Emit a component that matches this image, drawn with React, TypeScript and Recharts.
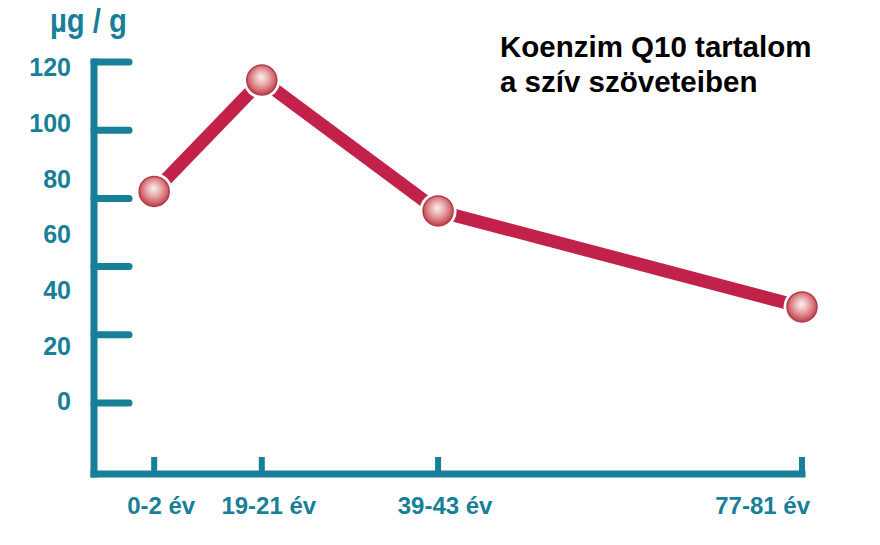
import { LineChart, Line, XAxis, YAxis } from 'recharts';

// age groups along the bottom axis
const ageGroups = ['0-2 év', '19-21 év', '39-43 év', '77-81 év'];
// where each age group sits on the horizontal track (0..100)
const trackPos = [8.5, 23.7, 48.6, 100];
// CoQ10 content of heart tissue, µg/g
const coq10 = [75.5, 115.5, 68.5, 34];

// the printed numbers and the tick marks on the y axis do not share spacing in the original
const yLabelTicks = [0, 20, 40, 60, 80, 100, 120];
const yMarkTicks = [0, 24, 48, 72, 96, 120];

const TEAL = '#177f98';
const RED = '#c2214a';
const FONT = "'Liberation Sans', Arial, sans-serif";

const data = ageGroups.map((age, i) => ({ age, pos: trackPos[i], value: coq10[i] }));

function AgeTick(props: any) {
  const { x, y, payload } = props;
  const i = trackPos.indexOf(payload.value);
  const last = i === trackPos.length - 1;
  return (
    <g>
      <line x1={x} y1={y} x2={x} y2={y - 17} stroke={TEAL} strokeWidth={6} />
      <text
        x={last ? x + 8 : x + 7}
        y={y + 40}
        textAnchor={last ? 'end' : 'middle'}
        fill={TEAL}
        fontSize={24}
        fontWeight={700}
        fontFamily={FONT}
      >
        {ageGroups[i]}
      </text>
    </g>
  );
}

function Bead(props: any) {
  const { cx, cy, index } = props;
  const id = `bead-${index}`;
  return (
    <g key={id}>
      <defs>
        <radialGradient id={id} cx="50%" cy="45%" r="55%" fx="48%" fy="40%">
          <stop offset="0%" stopColor="#fbf0ee" />
          <stop offset="40%" stopColor="#eab0b0" />
          <stop offset="80%" stopColor="#d0646b" />
          <stop offset="100%" stopColor="#b23d48" />
        </radialGradient>
      </defs>
      <circle cx={cx} cy={cy} r={18.5} fill="#fff" />
      <circle cx={cx} cy={cy} r={15} fill={`url(#${id})`} stroke="#b43a47" strokeWidth={1.5} />
    </g>
  );
}

export default function App() {
  return (
    <div style={{ position: 'absolute', left: 0, top: 0, width: 880, height: 545, background: '#fff' }}>
      <LineChart width={880} height={545} data={data} margin={{ top: 62, right: 78, bottom: 0, left: 0 }}>
        <XAxis
          dataKey="pos"
          type="number"
          domain={[0, 100]}
          ticks={trackPos}
          interval={0}
          height={71}
          tickSize={0}
          tickMargin={0}
          tickLine={false}
          axisLine={{ stroke: TEAL, strokeWidth: 7, strokeLinecap: 'square' }}
          tick={<AgeTick />}
        />
        <YAxis
          yAxisId="marks"
          type="number"
          mirror
          domain={[-25, 120]}
          ticks={yMarkTicks}
          interval={0}
          allowDataOverflow
          tickSize={35}
          tickFormatter={() => ''}
          axisLine={{ stroke: TEAL, strokeWidth: 7, strokeLinecap: 'square' }}
          tickLine={{ stroke: TEAL, strokeWidth: 7, strokeLinecap: 'round' }}
        />
        <YAxis
          yAxisId="labels"
          type="number"
          width={94}
          domain={[-26, 122]}
          ticks={yLabelTicks}
          interval={0}
          allowDataOverflow
          axisLine={false}
          tickLine={false}
          tickSize={0}
          tickMargin={23}
          tick={{ fill: TEAL, fontSize: 25, fontWeight: 700, fontFamily: FONT }}
        />
        <Line
          yAxisId="labels"
          dataKey="value"
          stroke={RED}
          strokeWidth={13}
          strokeLinejoin="miter"
          dot={Bead}
          activeDot={false}
          isAnimationActive={false}
        />
      </LineChart>
      <svg width={880} height={545} style={{ position: 'absolute', left: 0, top: 0, pointerEvents: 'none' }}>
        <text
          x={50}
          y={31.5}
          fill={TEAL}
          fontSize={33}
          fontWeight={700}
          fontFamily={FONT}
          textLength={77}
          lengthAdjust="spacingAndGlyphs"
        >
          µg / g
        </text>
        <text x={500} y={56.7} fill="#000" fontSize={29.5} fontWeight={700} fontFamily={FONT}>
          Koenzim Q10 tartalom
        </text>
        <text x={500} y={91.7} fill="#000" fontSize={29.5} fontWeight={700} fontFamily={FONT}>
          a szív szöveteiben
        </text>
      </svg>
    </div>
  );
}
